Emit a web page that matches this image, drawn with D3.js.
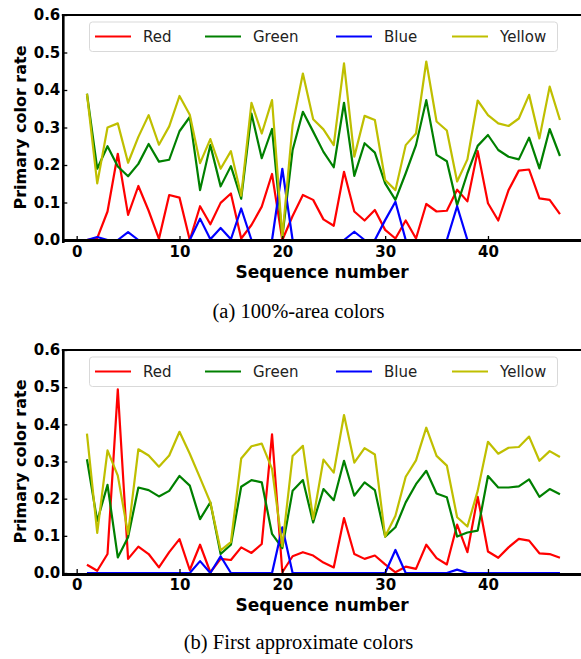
<!DOCTYPE html>
<html>
<head>
<meta charset="utf-8">
<script src="https://cdnjs.cloudflare.com/ajax/libs/d3/7.8.5/d3.min.js"></script>
<style>
  html, body { margin: 0; padding: 0; background: #fff; }
  svg { display: block; }
</style>
</head>
<body>
<svg id="chart" width="581" height="659"></svg>
<script>
// ---------- data ----------
const seqNumbers = [1,2,3,4,5,6,7,8,9,10,11,12,13,14,15,16,17,18,19,20,21,22,23,24,25,26,27,28,29,30,31,32,33,34,35,36,37,38,39,40,41,42,43,44,45,46,47];
const seriesNames = ["Red", "Green", "Blue", "Yellow"];
const seriesColors = ["#ff0000", "#008000", "#0000ff", "#bfbf00"];
const xTicks = [0, 10, 20, 30, 40];
const yTicks = [0.0, 0.1, 0.2, 0.3, 0.4, 0.5, 0.6];

// (a) 100%-area colors
const redA = [0,0.005,0.076,0.23,0.067,0.144,0.078,0.003,0.12,0.113,0,0.09,0.042,0.099,0.124,0.004,0.04,0.089,0.176,0,0.064,0.12,0.107,0.055,0.038,0.182,0.076,0.052,0.08,0.027,0.004,0.052,0.004,0.096,0.076,0.078,0.134,0.103,0.237,0.098,0.052,0.133,0.185,0.188,0.111,0.107,0.069];
const greenA = [0.39,0.19,0.25,0.196,0.17,0.203,0.256,0.209,0.214,0.29,0.328,0.133,0.253,0.143,0.197,0.11,0.337,0.218,0.296,0.008,0.24,0.342,0.289,0.235,0.194,0.366,0.171,0.258,0.233,0.151,0.107,0.178,0.253,0.373,0.227,0.21,0.093,0.178,0.251,0.28,0.24,0.222,0.215,0.273,0.191,0.296,0.224];
const blueA = [0,0.008,0,0,0.021,0,0,0,0,0,0,0.057,0.002,0.032,0.002,0.084,0,0,0,0.19,0,0,0,0,0,0,0.022,0,0,0.053,0.102,0,0,0,0,0,0.09,0,0,0,0,0,0,0,0,0,0];
const yellowA = [0.39,0.151,0.3,0.311,0.206,0.275,0.333,0.254,0.303,0.384,0.334,0.205,0.269,0.19,0.237,0.118,0.366,0.284,0.373,0.008,0.307,0.444,0.322,0.295,0.253,0.471,0.222,0.331,0.32,0.16,0.133,0.253,0.284,0.476,0.316,0.292,0.156,0.215,0.372,0.333,0.311,0.304,0.324,0.387,0.271,0.409,0.32];

// (b) First approximate colors
const redB = [0.022,0.006,0.051,0.494,0.038,0.071,0.051,0.015,0.056,0.091,0.008,0.076,0.002,0.038,0.035,0.069,0.054,0.078,0.373,0.002,0.045,0.056,0.047,0.028,0.015,0.148,0.051,0.038,0.047,0.023,0.002,0.017,0.011,0.076,0.04,0.023,0.13,0.056,0.205,0.058,0.041,0.069,0.092,0.087,0.053,0.051,0.041];
const greenB = [0.306,0.14,0.237,0.042,0.096,0.23,0.223,0.206,0.221,0.261,0.235,0.145,0.19,0.051,0.076,0.232,0.25,0.244,0.105,0.067,0.221,0.25,0.136,0.226,0.196,0.302,0.208,0.244,0.223,0.098,0.123,0.19,0.239,0.275,0.214,0.204,0.098,0.109,0.114,0.261,0.23,0.23,0.233,0.252,0.205,0.226,0.212];
const blueB = [0,0,0,0,0,0,0,0,0,0,0,0.032,0,0.045,0,0,0,0,0,0.123,0,0,0,0,0,0,0,0,0,0,0.062,0,0,0,0,0,0.009,0,0,0,0,0,0,0,0,0,0];
const yellowB = [0.375,0.108,0.33,0.262,0.105,0.333,0.316,0.286,0.316,0.38,0.321,0.256,0.19,0.061,0.083,0.308,0.341,0.348,0.28,0.072,0.315,0.342,0.145,0.305,0.27,0.425,0.297,0.336,0.319,0.098,0.154,0.259,0.303,0.391,0.315,0.289,0.15,0.125,0.221,0.353,0.321,0.337,0.339,0.367,0.302,0.328,0.312];

const captionA = "(a) 100%-area colors";
const captionB = "(b) First approximate colors";
const xLabel = "Sequence number";
const yLabel = "Primary color rate";

// ---------- drawing ----------
const svg = d3.select("#chart");
const boldFont = "'DejaVu Sans', sans-serif";

function drawPanel(cfg) {
  const { top, bottom, series, caption, captionY, legendY, spineOffset } = cfg;
  const left = 63.3, right = 583.6;
  const x = d3.scaleLinear().domain([-1.3, 49.3]).range([left, right]);
  const y = d3.scaleLinear().domain([0, 0.6]).range([bottom, top]);
  const g = svg.append("g");

  // lines
  const line = d3.line().x((d, i) => x(seqNumbers[i])).y(d => y(d));
  series.forEach((s, k) => {
    g.append("path").datum(s)
      .attr("fill", "none")
      .attr("stroke", seriesColors[k])
      .attr("stroke-width", 2.2)
      .attr("stroke-linejoin", "round")
      .attr("d", line);
  });

  // axes (ticks inward)
  const yAxis = d3.axisLeft(y).tickValues(yTicks).tickFormat(d3.format(".1f"))
    .tickSize(-4).tickPadding(3);
  const ya = g.append("g").attr("transform", `translate(${left},0)`).call(yAxis);
  const xAxis = d3.axisBottom(x).tickValues(xTicks).tickFormat(d3.format("d"))
    .tickSize(-4).tickPadding(6);
  const xa = g.append("g").attr("transform", `translate(0,${bottom})`).call(xAxis);
  [ya, xa].forEach(a => {
    a.select(".domain").remove();
    a.selectAll(".tick line").attr("stroke", "#000").attr("stroke-width", 1.3);
    a.selectAll(".tick text").attr("fill", "#000")
      .style("font-family", boldFont).style("font-weight", "bold").style("font-size", "15px");
  });

  // spines
  g.append("line").attr("x1", left - 1.5).attr("x2", right).attr("y1", top).attr("y2", top)
    .attr("stroke", "#000").attr("stroke-width", 2);
  g.append("line").attr("x1", right).attr("x2", right).attr("y1", top).attr("y2", bottom)
    .attr("stroke", "#000").attr("stroke-width", 2);
  g.append("line").attr("x1", left).attr("x2", left).attr("y1", top - 1).attr("y2", bottom + 3)
    .attr("stroke", "#000").attr("stroke-width", 2.6);
  g.append("line").attr("x1", left).attr("x2", right).attr("y1", bottom + spineOffset).attr("y2", bottom + spineOffset)
    .attr("stroke", "#000").attr("stroke-width", 3);

  // axis labels
  g.append("text").attr("x", 322).attr("y", bottom + 32)
    .attr("text-anchor", "middle").attr("dominant-baseline", "central")
    .style("font-family", boldFont).style("font-weight", "bold").style("font-size", "17px")
    .text(xLabel);
  g.append("text")
    .attr("transform", `translate(20,${(top + bottom) / 2}) rotate(-90)`)
    .attr("text-anchor", "middle").attr("dominant-baseline", "central")
    .style("font-family", boldFont).style("font-weight", "bold").style("font-size", "16px")
    .text(yLabel);

  // legend
  const lg = g.append("g");
  lg.append("rect").attr("x", 89.5).attr("y", legendY - 14.5)
    .attr("width", 468).attr("height", 29.5).attr("rx", 3)
    .attr("fill", "#fff").attr("fill-opacity", 0.8)
    .attr("stroke", "#d9d9d9").attr("stroke-width", 1);
  const swatchX = [95, 205, 336, 452];
  seriesNames.forEach((name, k) => {
    lg.append("line").attr("x1", swatchX[k]).attr("x2", swatchX[k] + 36)
      .attr("y1", legendY).attr("y2", legendY)
      .attr("stroke", seriesColors[k]).attr("stroke-width", 2.2);
    lg.append("text").attr("x", swatchX[k] + 48).attr("y", legendY)
      .attr("dominant-baseline", "central")
      .style("font-family", "'DejaVu Sans', sans-serif").style("font-size", "15px")
      .attr("fill", "#222").text(name);
  });

  // caption
  svg.append("text").attr("x", 298.5).attr("y", captionY)
    .attr("text-anchor", "middle").attr("dominant-baseline", "central")
    .style("font-family", "'Liberation Serif', 'Times New Roman', serif").style("font-size", "20.5px")
    .attr("fill", "#000").text(caption);
}

drawPanel({ top: 15, bottom: 240, series: [redA, greenA, blueA, yellowA],
  caption: captionA, captionY: 311, legendY: 36.5, spineOffset: 0.6 });
drawPanel({ top: 350, bottom: 573, series: [redB, greenB, blueB, yellowB],
  caption: captionB, captionY: 642, legendY: 371.5, spineOffset: 1.6 });
</script>
</body>
</html>
